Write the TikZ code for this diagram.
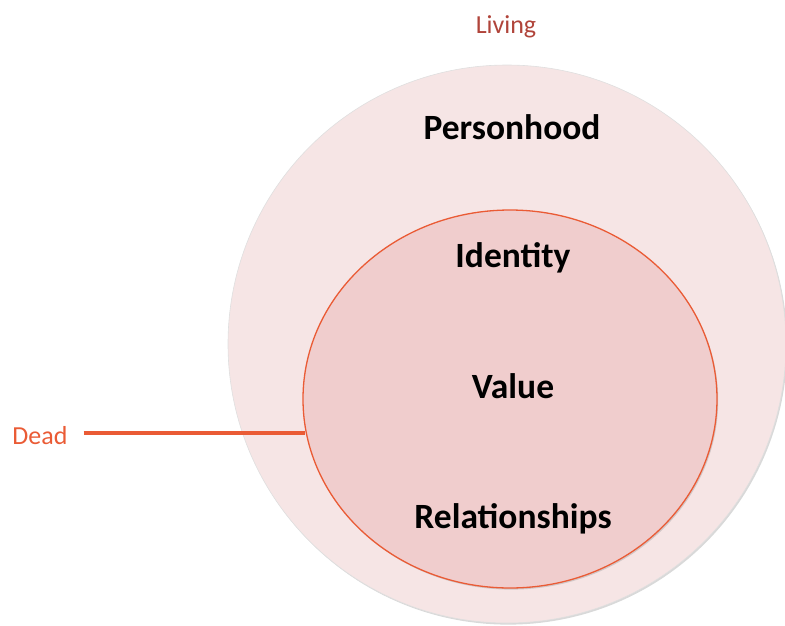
\documentclass[tikz,border=0pt]{standalone}
\usepackage{fontspec}
\setmainfont{Carlito}
\usetikzlibrary{shapes.geometric,shadows}

\definecolor{outerfill}{HTML}{F6E5E5}
\definecolor{innerfill}{HTML}{F0CDCD}
\definecolor{deadred}{HTML}{EA5B35}
\definecolor{livingred}{HTML}{B0443A}

\begin{document}
\begin{tikzpicture}[x=1pt, y=-1pt,
        ring/.style={inner sep=0pt, drop shadow={shadow xshift=1.2pt, shadow yshift=-1.6pt, opacity=0.3}},
        big/.style={font=\fontsize{35.5}{42}\selectfont\bfseries, anchor=base, inner sep=0pt},
        small/.style={font=\fontsize{26}{31}\selectfont, inner sep=0pt}]
        \useasboundingbox (0,0) rectangle (785,625);

        \node[ring, circle, fill=outerfill, draw=gray!25, line width=0.6pt, minimum size=558pt] (outer) at (507,344) {};
        \node[ring, ellipse, fill=innerfill, draw=deadred, line width=1.3pt, minimum width=414pt, minimum height=378pt] (inner) at (510,399) {};

        \node[small, text=livingred, anchor=base] (living) at (506,33) {Living};
        \node[small, text=deadred, anchor=base] (dead) at (40,444) {Dead};

        \node[big] (personhood) at (512,139) {Personhood};
        \node[big] (identity) at (513,267) {Identity};
        \node[big] (value) at (513,398) {Value};
        \node[big] (relationships) at (513,528) {Relationships};

        \draw[deadred, line width=3.5pt, shorten <=16pt] (dead.east |- 0,433) -- (inner.189.5 |- 0,433);
    \end{tikzpicture}
\end{document}
